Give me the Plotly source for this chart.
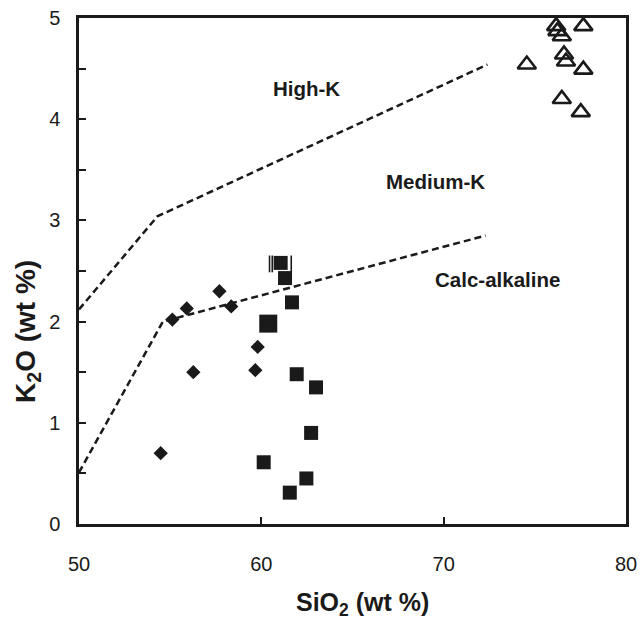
import plotly.graph_objects as go

# Data (SiO2 wt%, K2O wt%)
dia_x = [54.48, 55.12, 55.91, 56.27, 57.70, 58.35, 59.80, 59.67]
dia_y = [0.70, 2.02, 2.13, 1.50, 2.30, 2.15, 1.75, 1.52]

sq_x = [61.06, 61.30, 61.68, 61.94, 63.00, 62.73, 60.13, 62.47, 61.56]
sq_y = [2.58, 2.43, 2.19, 1.48, 1.35, 0.90, 0.61, 0.45, 0.31]

big_sq_x = [60.38]
big_sq_y = [1.98]

# partial outline visible around the uppermost square
bracket_x = [60.45, 60.60, 61.64]
bracket_y = [2.57, 2.57, 2.57]

tri_x = [74.56, 77.66, 76.17, 76.24, 76.48, 76.60, 76.71, 77.66, 76.48, 77.52]
tri_y = [4.54, 4.92, 4.92, 4.87, 4.82, 4.64, 4.57, 4.49, 4.20, 4.07]

# Boundary lines
hk_x = [50.0, 54.3, 72.4]
hk_y = [2.12, 3.04, 4.54]
ca_x = [50.0, 54.6, 72.3]
ca_y = [0.51, 2.00, 2.85]

labels = ["High-K", "Medium-K", "Calc-alkaline"]
label_x = [62.45, 69.55, 72.95]
label_y = [4.30, 3.38, 2.42]

FONT = "Liberation Sans, Arial, sans-serif"
INK = "#1a1a1a"

fig = go.Figure()
for lx, ly in [(hk_x, hk_y), (ca_x, ca_y)]:
    fig.add_trace(go.Scatter(x=lx, y=ly, mode="lines",
                             line=dict(color=INK, width=2.5, dash="7px,4px"),
                             showlegend=False, hoverinfo="skip"))

fig.add_trace(go.Scatter(x=dia_x, y=dia_y, mode="markers",
                         marker=dict(symbol="diamond", size=11, color=INK,
                                     line=dict(width=0)), showlegend=False))
fig.add_trace(go.Scatter(x=bracket_x, y=bracket_y, mode="markers",
                         marker=dict(symbol="line-ns-open", size=12, color=INK,
                                     line=dict(width=1.6, color=INK)),
                         showlegend=False, hoverinfo="skip"))
fig.add_trace(go.Scatter(x=sq_x, y=sq_y, mode="markers",
                         marker=dict(symbol="square", size=14, color=INK,
                                     line=dict(width=0)), showlegend=False))
fig.add_trace(go.Scatter(x=big_sq_x, y=big_sq_y, mode="markers",
                         marker=dict(symbol="square", size=18, color=INK,
                                     line=dict(width=0)), showlegend=False))
fig.add_trace(go.Scatter(x=tri_x, y=tri_y, mode="markers",
                         marker=dict(symbol="triangle-up-open", size=16, color=INK,
                                     line=dict(width=2.6)), showlegend=False,
                         cliponaxis=False))

for t, x, y in zip(labels, label_x, label_y):
    fig.add_annotation(x=x, y=y, text="<b>%s</b>" % t, showarrow=False,
                       font=dict(family=FONT, size=20.5, color=INK))

# axis titles as annotations (placed as in the reference)
fig.add_annotation(xref="paper", yref="paper", x=(363 - 79) / 547, y=(524 - 604) / 506,
                   xanchor="center", yanchor="middle",
                   text="<b>SiO<sub>2</sub> (wt %)</b>", showarrow=False,
                   font=dict(family=FONT, size=25, color=INK))
fig.add_annotation(xref="paper", yref="paper", x=(27 - 79) / 547, y=(524 - 332) / 506,
                   xanchor="center", yanchor="middle",
                   text="<b>K<sub>2</sub>O (wt %)</b>", showarrow=False, textangle=-90,
                   font=dict(family=FONT, size=28, color=INK))

fig.update_layout(
    width=640, height=622,
    margin=dict(l=79, r=14, t=18, b=98),
    paper_bgcolor="white", plot_bgcolor="white",
    font=dict(family=FONT, color=INK),
)
fig.update_xaxes(range=[50, 80], tickvals=[50, 60, 70, 80], ticks="inside", ticklen=7,
                 tickwidth=2, tickcolor=INK, automargin=False,
                 showline=True, linewidth=2.5, linecolor=INK, mirror=True,
                 showgrid=False, zeroline=False, ticklabelstandoff=20,
                 tickfont=dict(size=20, family=FONT, color=INK))
fig.update_yaxes(range=[0, 5], tickvals=[0, 1, 2, 3, 4, 5], ticks="inside", ticklen=7,
                 tickwidth=2, tickcolor=INK, automargin=False,
                 minor=dict(tickvals=[0.5, 1.5, 2.5, 3.5, 4.5], ticks="inside", ticklen=7,
                            tickwidth=2, tickcolor=INK),
                 showline=True, linewidth=2.5, linecolor=INK, mirror=True,
                 showgrid=False, zeroline=False, ticklabelstandoff=12,
                 tickfont=dict(size=20, family=FONT, color=INK))

fig.write_html("out.html")
